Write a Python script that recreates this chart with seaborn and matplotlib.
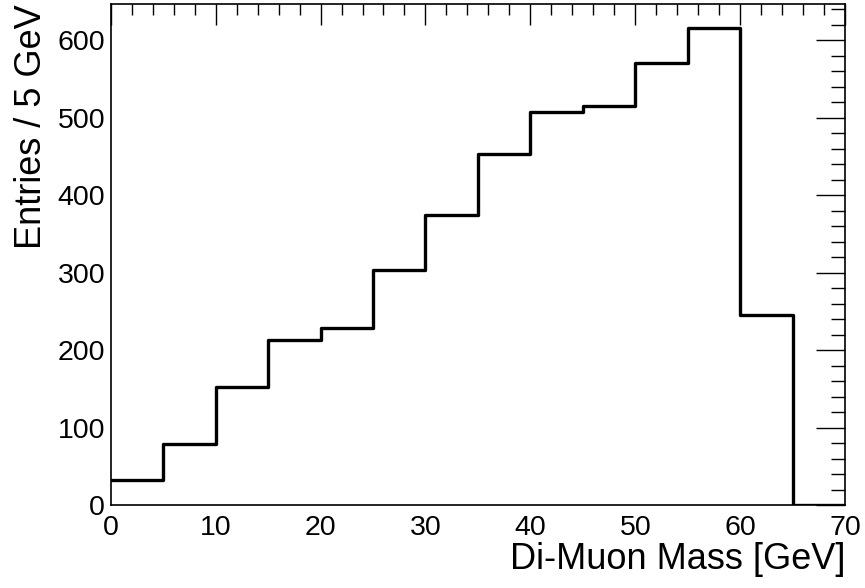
import numpy as np
import pandas as pd
import seaborn as sb
import matplotlib.pyplot as plt
from matplotlib.ticker import MultipleLocator

# Di-muon mass histogram, 5 GeV bins
bin_edges = [0, 5, 10, 15, 20, 25, 30, 35, 40, 45, 50, 55, 60, 65, 70]
bin_centers = [2.5, 7.5, 12.5, 17.5, 22.5, 27.5, 32.5, 37.5, 42.5, 47.5, 52.5, 57.5, 62.5, 67.5]
entries = [32, 79, 153, 213, 229, 303, 375, 453, 508, 515, 571, 616, 245, 0]

sb.set_theme(style='white')
plt.rcParams['font.family'] = ['Liberation Sans', 'DejaVu Sans']

df = pd.DataFrame({'mass': bin_centers, 'entries': entries})

fig = plt.figure(figsize=(8.65, 5.88), dpi=100)
ax = fig.add_axes([0.128, 0.141, 0.849, 0.852])

sb.histplot(data=df, x='mass', weights='entries', bins=bin_edges,
            element='step', fill=False, color='black', linewidth=2.4, ax=ax)

ax.set_xlim(0, 70)
ax.set_ylim(0, max(entries) * 1.05)

# ROOT style ticks: inside, on all four sides
ax.xaxis.set_major_locator(MultipleLocator(10))
ax.xaxis.set_minor_locator(MultipleLocator(2))
ax.yaxis.set_major_locator(MultipleLocator(100))
ax.yaxis.set_minor_locator(MultipleLocator(20))
ax.tick_params(which='both', direction='in', top=True, right=True, colors='black',
               labelcolor='black', labelsize=20.5, width=1)
ax.tick_params(axis='x', which='major', length=15, pad=7)
ax.tick_params(axis='x', which='minor', length=8)
ax.tick_params(axis='y', which='major', length=21, pad=4)
ax.tick_params(axis='y', which='minor', length=10)
for s in ax.spines.values():
    s.set_color('black')
    s.set_linewidth(1.2)

ax.set_xlabel('Di-Muon Mass [GeV]', fontsize=26, loc='right', labelpad=1, color='black')
ax.set_ylabel('Entries / 5 GeV', fontsize=26, loc='top', labelpad=6, color='black')

fig.savefig('out.png', dpi=100)
